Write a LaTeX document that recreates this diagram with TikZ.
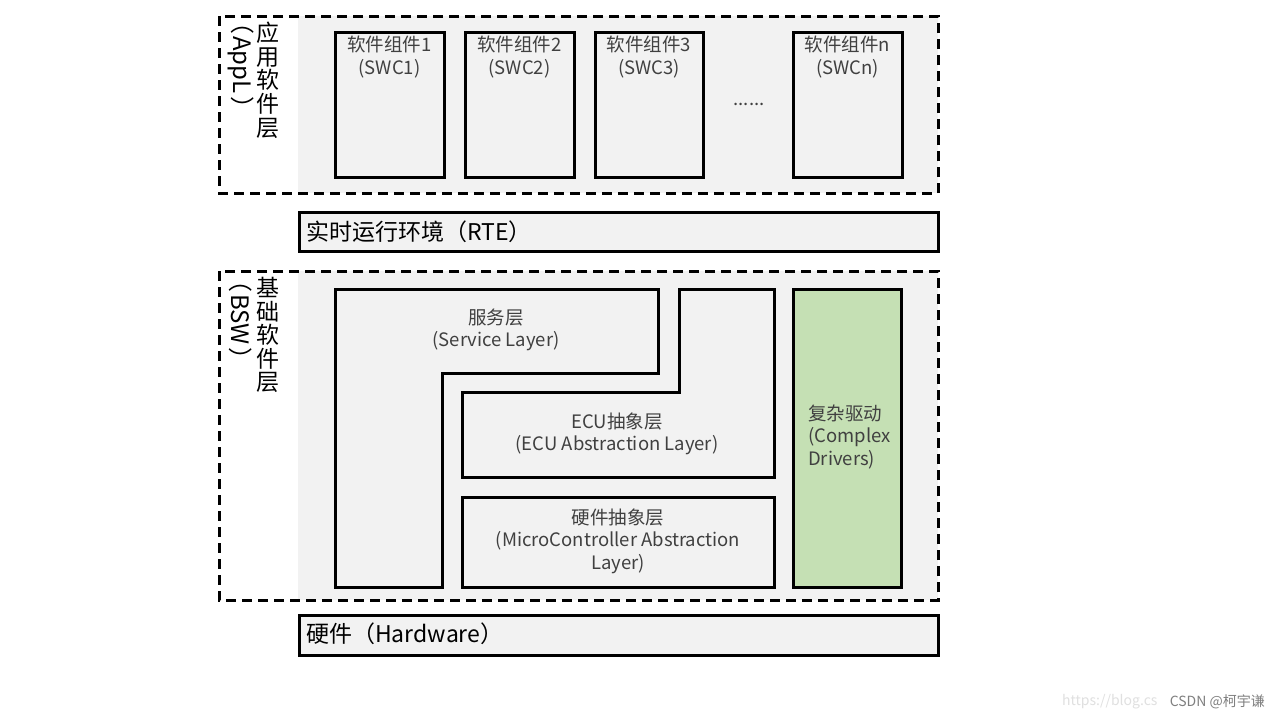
\documentclass[tikz,border=0pt]{standalone}
\usepackage{fontspec}
\setmainfont{Noto Sans CJK SC}
\begin{document}
\begin{tikzpicture}[x=1pt,y=-1pt,
  layerbox/.style={draw=black,line width=3pt,fill=boxgrey},
  dashbox/.style={draw=black,line width=3pt,dash pattern=on 10pt off 6pt},
  lbl/.style={text=txtgrey,font=\fontsize{18.5}{22.5}\selectfont,align=center,inner sep=0pt},
  biglbl/.style={text=black,font=\fontsize{23}{26}\selectfont,inner sep=0pt},
  vlbl/.style={text=black,font=\fontsize{23}{23.6}\selectfont,align=center,inner sep=0pt},
  rlbl/.style={text=black,font=\fontsize{24}{26}\selectfont,inner sep=0pt,rotate=-90,anchor=west},
  wm/.style={font=\fontsize{14}{16}\selectfont,inner sep=0pt}]
\definecolor{boxgrey}{HTML}{F2F2F2}
\definecolor{txtgrey}{HTML}{404040}
\definecolor{cdgreen}{HTML}{C5E0B4}
\useasboundingbox[fill=white] (0,0) rectangle (1280,720);

% ---------- Application layer ----------
\fill[boxgrey] (298,16) rectangle (938,193);
\draw[dashbox] (219,16) rectangle (938,193);
\node[vlbl,anchor=north] (appcn) at (268,22) {应\\用\\软\\件\\层};
\node[rlbl] (appen) at (241,10) {（\hspace{2pt}AppL\hspace{3pt}）};

\draw[layerbox] (335,32) rectangle (444,177);
\draw[layerbox] (465,32) rectangle (574,177);
\draw[layerbox] (595,32) rectangle (703,177);
\draw[layerbox] (793,32) rectangle (902,177);
\node[lbl,anchor=north] (swc1) at (389.5,36) {软件组件1\\(SWC1)};
\node[lbl,anchor=north] (swc2) at (519.5,36) {软件组件2\\(SWC2)};
\node[lbl,anchor=north] (swc3) at (649,36) {软件组件3\\(SWC3)};
\node[lbl,anchor=north] (swcn) at (847.5,36) {软件组件n\\(SWCn)};
\node[lbl] (dots) at (749,104) {......};

% ---------- RTE ----------
\draw[layerbox] (299,212) rectangle (938,251);
\node[biglbl,anchor=west] (rte) at (306,232) {实时运行环境（RTE）};

% ---------- BSW ----------
\fill[boxgrey] (298,271) rectangle (938,600);
\draw[dashbox] (219,271) rectangle (938,600);
\node[vlbl,anchor=north] (bswcn) at (268,277) {基\\础\\软\\件\\层};
\node[rlbl] (bswen) at (241,268) {（\hspace{2pt}BSW\hspace{3pt}）};

\draw[layerbox] (335,289) -- (658,289) -- (658,373) -- (442,373) -- (442,587) -- (335,587) -- cycle;
\node[lbl] (svc) at (496,330) {服务层\\(Service Layer)};

\draw[layerbox] (679,289) -- (774,289) -- (774,477) -- (462,477) -- (462,392) -- (679,392) -- cycle;
\node[lbl] (ecu) at (617,434) {ECU抽象层\\(ECU Abstraction Layer)};

\draw[layerbox] (462,497) rectangle (774,587);
\node[lbl] (mcal) at (618,541) {硬件抽象层\\(MicroController Abstraction\\Layer)};

\draw[layerbox,fill=cdgreen] (793,289) rectangle (901,587);
\node[lbl,align=left,anchor=west] (cdd) at (808,437) {复杂驱动\\(Complex\\Drivers)};

% ---------- Hardware ----------
\draw[layerbox] (299,615) rectangle (938,655);
\node[biglbl,anchor=west] (hw) at (306,634) {硬件（Hardware）};

% ---------- watermark ----------
\node[wm,text=black!12,anchor=west] (url) at (1062,702) {https://blog.cs};
\node[wm,text=black!50,anchor=east] (csdn) at (1265,702) {CSDN @柯宇谦};
\end{tikzpicture}
\end{document}
